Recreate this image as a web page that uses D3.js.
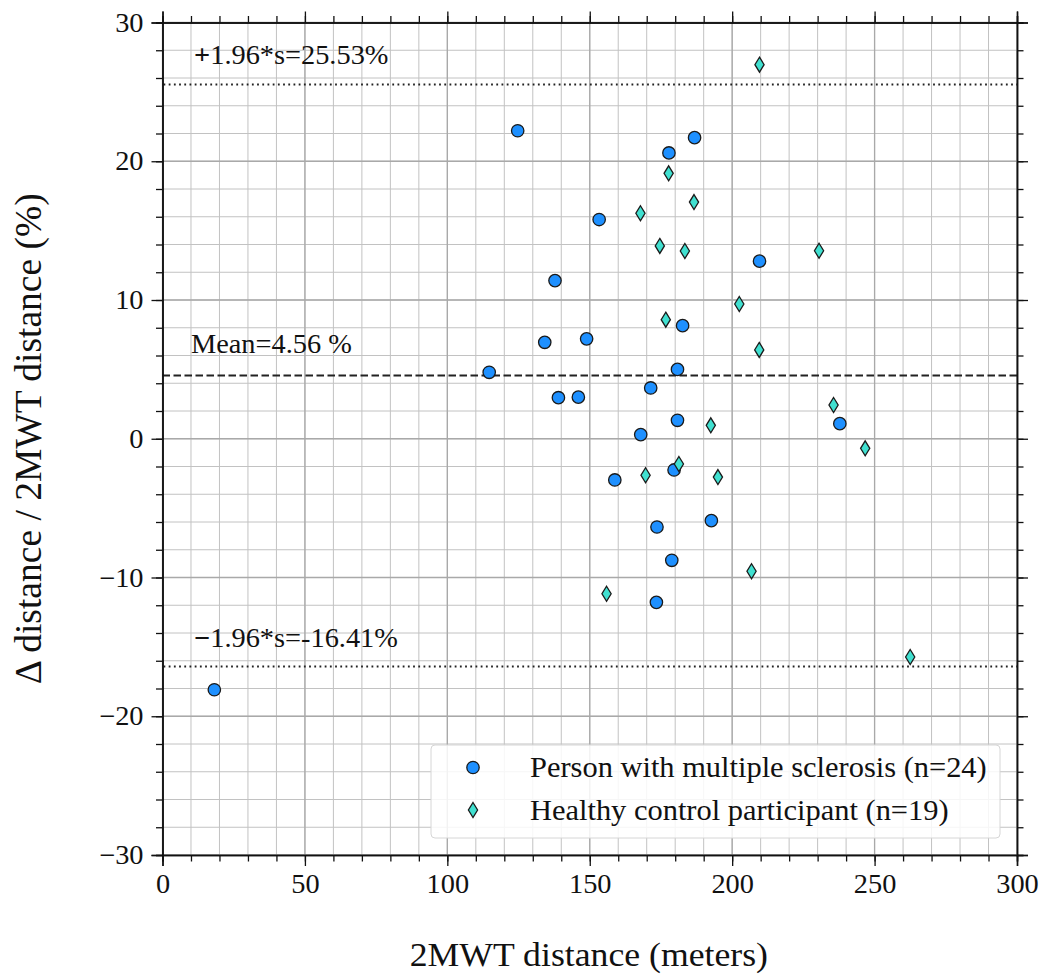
<!DOCTYPE html>
<html lang="en">
<head>
<meta charset="utf-8">
<title>Bland-Altman 2MWT</title>
<script src="https://d3js.org/d3.v7.min.js"></script>
<style>
  body { margin: 0; background: #fff; }
  text { font-family: "Liberation Serif", "Times New Roman", serif; fill: #111; }
  .tick text { font-size: 27px; transform-box: fill-box; }
  .xax .tick text { transform-origin: 50% 50%; transform: scaleX(1.05); }
  .yax .tick text { transform-origin: 100% 50%; transform: scaleX(1.05); }
  .stretch { transform-box: fill-box; transform-origin: 0% 50%; transform: scaleX(1.05); }
  .grid-major line { stroke: #a9a9a9; stroke-width: 1.3px; }
  .grid-minor line { stroke: #c2c2c2; stroke-width: 1px; }
</style>
</head>
<body>
<div id="chart"></div>
<script>
// person with MS: [2MWT distance, delta %]
var msX = [124.7, 186.8, 177.8, 153.3, 209.6, 137.8, 182.6, 134.2, 148.9, 114.7, 180.8, 171.4,
           139.0, 146.0, 180.8, 167.9, 237.8, 158.8, 179.6, 173.6, 192.7, 178.8, 173.4, 18.2];
var msY = [22.2, 21.7, 20.6, 15.8, 12.8, 11.4, 8.15, 6.95, 7.2, 4.79, 5.0, 3.66,
           2.96, 3.0, 1.33, 0.3, 1.09, -2.97, -2.25, -6.36, -5.9, -8.76, -11.79, -18.09];
// healthy controls
var hcX = [209.6, 230.5, 177.7, 186.6, 167.8, 174.6, 183.4, 202.5, 176.7, 209.5,
           235.6, 192.5, 246.7, 181.3, 169.6, 195.0, 206.8, 155.9, 262.5];
var hcY = [26.96, 13.55, 19.13, 17.06, 16.25, 13.9, 13.53, 9.71, 8.58, 6.4,
           2.43, 0.97, -0.69, -1.82, -2.63, -2.76, -9.55, -11.17, -15.73];

var meanDiff = 4.56, upperLoA = 25.53, lowerLoA = -16.41;
var xMajor = [0, 50, 100, 150, 200, 250, 300];
var yMajor = [-30, -20, -10, 0, 10, 20, 30];
var seriesNames = ["Person with multiple sclerosis (n=24)", "Healthy control participant (n=19)"];

var width = 1043, height = 980;
var pL = 162.5, pR = 1017, pT = 22.5, pB = 855;

var svg = d3.select("#chart").append("svg")
    .attr("width", width).attr("height", height);

var x = d3.scaleLinear().domain([0, 300]).range([pL, pR]);
var y = d3.scaleLinear().domain([-30, 30]).range([pB, pT]);

var xMinor = d3.range(0, 301, 10), yMinor = d3.range(-30, 31, 2);

// grid
function grid(cls, xv, yv) {
  var g = svg.append("g").attr("class", cls);
  g.selectAll("line.v").data(xv).enter().append("line").attr("class", "v")
    .attr("x1", d => x(d)).attr("x2", d => x(d)).attr("y1", pT).attr("y2", pB);
  g.selectAll("line.h").data(yv).enter().append("line").attr("class", "h")
    .attr("y1", d => y(d)).attr("y2", d => y(d)).attr("x1", pL).attr("x2", pR);
}
grid("grid-minor", xMinor, yMinor);
grid("grid-major", xMajor, yMajor);

// reference lines
svg.append("line").attr("x1", x(0)).attr("x2", x(300))
  .attr("y1", y(meanDiff)).attr("y2", y(meanDiff))
  .attr("stroke", "#222").attr("stroke-width", 2).attr("stroke-dasharray", "7.5,3.5");
[upperLoA, lowerLoA].forEach(function(v) {
  svg.append("line").attr("x1", x(0) + 1).attr("x2", x(300))
    .attr("y1", y(v)).attr("y2", y(v))
    .attr("stroke", "#222").attr("stroke-width", 2).attr("stroke-dasharray", "1.8,3.4");
});

// annotations
function note(xv, yv, sign, rest) {
  var t = svg.append("text").attr("class", "stretch")
    .attr("x", x(xv)).attr("y", y(yv)).style("font-size", "27px");
  if (sign) t.append("tspan").style("font-weight", "bold").text(sign);
  t.append("tspan").text(rest);
}
note(11.1, upperLoA + 1.47, "+", "1.96*s=" + upperLoA.toFixed(2) + "%");
note(10, meanDiff + 1.62, "", "Mean=" + meanDiff.toFixed(2) + " %");
note(11.1, lowerLoA + 1.42, "\u2212", "1.96*s=" + lowerLoA.toFixed(2) + "%");

// axes
function axes(minor) {
  var sz = minor ? 6.5 : 11;
  var xv = minor ? xMinor : xMajor, yv = minor ? yMinor : yMajor;
  var lab = minor ? () => "" : d3.format("d");
  svg.append("g").attr("class", "xax").attr("transform", "translate(0," + pB + ")")
    .call(d3.axisBottom(x).tickValues(xv).tickSize(sz).tickPadding(8).tickFormat(lab));
  svg.append("g").attr("transform", "translate(0," + pT + ")")
    .call(d3.axisTop(x).tickValues(xv).tickSize(sz).tickFormat(() => ""));
  svg.append("g").attr("class", "yax").attr("transform", "translate(" + pL + ",0)")
    .call(d3.axisLeft(y).tickValues(yv).tickSize(sz).tickPadding(8).tickFormat(lab));
  svg.append("g").attr("transform", "translate(" + pR + ",0)")
    .call(d3.axisRight(y).tickValues(yv).tickSize(sz).tickFormat(() => ""));
}
axes(true);
axes(false);
svg.selectAll(".domain").attr("stroke", "#111").attr("stroke-width", 1.5);
svg.selectAll(".tick line").attr("stroke", "#111").attr("stroke-width", 1.3);
svg.selectAll(".tick text").attr("font-family", null).attr("font-size", null);

// markers
function diamond(g) {
  g.append("path").attr("d", "M0,-7.5L4.6,0L0,7.5L-4.6,0Z")
    .attr("fill", "#40E0D0").attr("stroke", "#1a1a1a").attr("stroke-width", 1.3);
}
function circle(g) {
  g.append("circle").attr("r", 6.2)
    .attr("fill", "#1E90FF").attr("stroke", "#1a1a1a").attr("stroke-width", 1.3);
}

svg.append("g").selectAll("g").data(d3.range(msX.length)).enter().append("g")
  .attr("transform", i => "translate(" + x(msX[i]) + "," + y(msY[i]) + ")")
  .each(function() { circle(d3.select(this)); });
svg.append("g").selectAll("g").data(d3.range(hcX.length)).enter().append("g")
  .attr("transform", i => "translate(" + x(hcX[i]) + "," + y(hcY[i]) + ")")
  .each(function() { diamond(d3.select(this)); });

// legend
var leg = svg.append("g");
leg.append("rect").attr("x", 431).attr("y", 745).attr("width", 569).attr("height", 93)
  .attr("rx", 4).attr("fill", "#fff").attr("fill-opacity", 0.85)
  .attr("stroke", "#d6d6d6").attr("stroke-width", 1);
seriesNames.forEach(function(name, i) {
  var row = leg.append("g").attr("transform", "translate(473," + (767.5 + i * 42.5) + ")");
  if (i === 0) circle(row); else diamond(row);
  row.append("text").attr("class", "stretch").attr("x", 57).attr("y", 9.5)
    .style("font-size", "29px").text(name);
});

// axis titles
svg.append("text").attr("class", "stretch")
  .attr("x", (pL + pR) / 2 - 180).attr("y", 966)
  .style("font-size", "34px").text("2MWT distance (meters)");
svg.append("text")
  .attr("transform", "translate(41," + ((pT + pB) / 2) + ") rotate(-90)")
  .attr("text-anchor", "middle").style("font-size", "37.5px")
  .text("\u0394 distance / 2MWT distance (%)");
</script>
</body>
</html>
